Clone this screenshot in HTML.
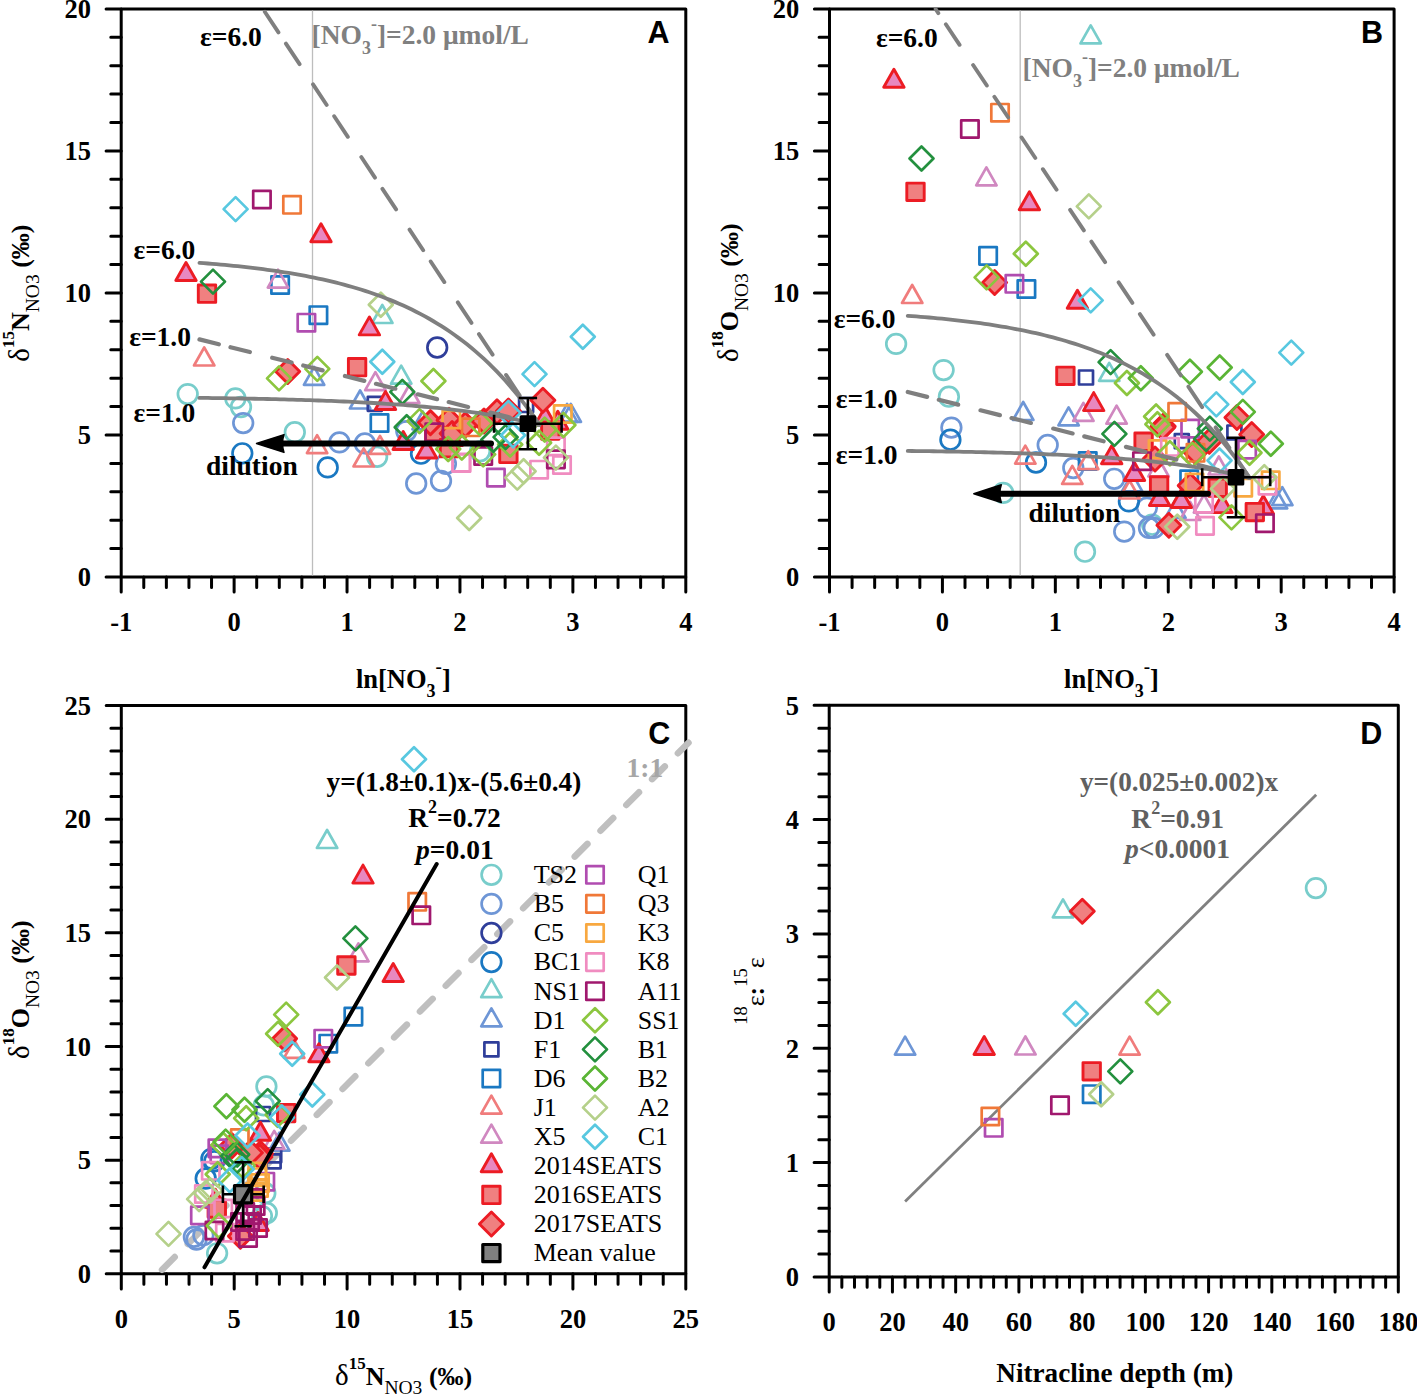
<!DOCTYPE html>
<html><head><meta charset="utf-8"><style>
html,body{margin:0;padding:0;background:#fff;width:1417px;height:1395px;overflow:hidden}
svg{display:block}
</style></head><body>
<svg width="1417" height="1395" viewBox="0 0 1417 1395" stroke-linejoin="round">
<path d="M121.20 577.00V592.10M143.78 577.00V587.40M166.37 577.00V587.40M188.95 577.00V587.40M211.54 577.00V587.40M234.12 577.00V592.10M256.70 577.00V587.40M279.29 577.00V587.40M301.87 577.00V587.40M324.46 577.00V587.40M347.04 577.00V592.10M369.62 577.00V587.40M392.21 577.00V587.40M414.79 577.00V587.40M437.38 577.00V587.40M459.96 577.00V592.10M482.54 577.00V587.40M505.13 577.00V587.40M527.71 577.00V587.40M550.30 577.00V587.40M572.88 577.00V592.10M595.46 577.00V587.40M618.05 577.00V587.40M640.63 577.00V587.40M663.22 577.00V587.40M685.80 577.00V592.10M121.20 577.00H106.10M121.20 548.60H110.80M121.20 520.19H110.80M121.20 491.78H110.80M121.20 463.38H110.80M121.20 434.98H106.10M121.20 406.57H110.80M121.20 378.16H110.80M121.20 349.76H110.80M121.20 321.36H110.80M121.20 292.95H106.10M121.20 264.54H110.80M121.20 236.14H110.80M121.20 207.73H110.80M121.20 179.33H110.80M121.20 150.92H106.10M121.20 122.52H110.80M121.20 94.12H110.80M121.20 65.71H110.80M121.20 37.30H110.80M121.20 8.90H106.10" stroke="#000" stroke-width="3.0" stroke-linecap="round" fill="none"/>
<rect x="121.20" y="8.90" width="564.60" height="568.10" fill="none" stroke="#000" stroke-width="3.0"/>
<text x="121.20" y="631.00" text-anchor="middle" font-family='"Liberation Serif", serif' font-weight="bold" font-size="26.5">-1</text>
<text x="234.12" y="631.00" text-anchor="middle" font-family='"Liberation Serif", serif' font-weight="bold" font-size="26.5">0</text>
<text x="347.04" y="631.00" text-anchor="middle" font-family='"Liberation Serif", serif' font-weight="bold" font-size="26.5">1</text>
<text x="459.96" y="631.00" text-anchor="middle" font-family='"Liberation Serif", serif' font-weight="bold" font-size="26.5">2</text>
<text x="572.88" y="631.00" text-anchor="middle" font-family='"Liberation Serif", serif' font-weight="bold" font-size="26.5">3</text>
<text x="685.80" y="631.00" text-anchor="middle" font-family='"Liberation Serif", serif' font-weight="bold" font-size="26.5">4</text>
<text x="90.90" y="586.30" text-anchor="end" font-family='"Liberation Serif", serif' font-weight="bold" font-size="26.5">0</text>
<text x="90.90" y="444.28" text-anchor="end" font-family='"Liberation Serif", serif' font-weight="bold" font-size="26.5">5</text>
<text x="90.90" y="302.25" text-anchor="end" font-family='"Liberation Serif", serif' font-weight="bold" font-size="26.5">10</text>
<text x="90.90" y="160.22" text-anchor="end" font-family='"Liberation Serif", serif' font-weight="bold" font-size="26.5">15</text>
<text x="90.90" y="18.20" text-anchor="end" font-family='"Liberation Serif", serif' font-weight="bold" font-size="26.5">20</text>
<path d="M829.50 577.00V592.10M852.08 577.00V587.40M874.67 577.00V587.40M897.25 577.00V587.40M919.84 577.00V587.40M942.42 577.00V592.10M965.00 577.00V587.40M987.59 577.00V587.40M1010.17 577.00V587.40M1032.76 577.00V587.40M1055.34 577.00V592.10M1077.92 577.00V587.40M1100.51 577.00V587.40M1123.09 577.00V587.40M1145.68 577.00V587.40M1168.26 577.00V592.10M1190.84 577.00V587.40M1213.43 577.00V587.40M1236.01 577.00V587.40M1258.60 577.00V587.40M1281.18 577.00V592.10M1303.76 577.00V587.40M1326.35 577.00V587.40M1348.93 577.00V587.40M1371.52 577.00V587.40M1394.10 577.00V592.10M829.50 577.00H814.40M829.50 548.60H819.10M829.50 520.19H819.10M829.50 491.78H819.10M829.50 463.38H819.10M829.50 434.98H814.40M829.50 406.57H819.10M829.50 378.16H819.10M829.50 349.76H819.10M829.50 321.36H819.10M829.50 292.95H814.40M829.50 264.54H819.10M829.50 236.14H819.10M829.50 207.73H819.10M829.50 179.33H819.10M829.50 150.92H814.40M829.50 122.52H819.10M829.50 94.12H819.10M829.50 65.71H819.10M829.50 37.30H819.10M829.50 8.90H814.40" stroke="#000" stroke-width="3.0" stroke-linecap="round" fill="none"/>
<rect x="829.50" y="8.90" width="564.60" height="568.10" fill="none" stroke="#000" stroke-width="3.0"/>
<text x="829.50" y="631.00" text-anchor="middle" font-family='"Liberation Serif", serif' font-weight="bold" font-size="26.5">-1</text>
<text x="942.42" y="631.00" text-anchor="middle" font-family='"Liberation Serif", serif' font-weight="bold" font-size="26.5">0</text>
<text x="1055.34" y="631.00" text-anchor="middle" font-family='"Liberation Serif", serif' font-weight="bold" font-size="26.5">1</text>
<text x="1168.26" y="631.00" text-anchor="middle" font-family='"Liberation Serif", serif' font-weight="bold" font-size="26.5">2</text>
<text x="1281.18" y="631.00" text-anchor="middle" font-family='"Liberation Serif", serif' font-weight="bold" font-size="26.5">3</text>
<text x="1394.10" y="631.00" text-anchor="middle" font-family='"Liberation Serif", serif' font-weight="bold" font-size="26.5">4</text>
<text x="799.20" y="586.30" text-anchor="end" font-family='"Liberation Serif", serif' font-weight="bold" font-size="26.5">0</text>
<text x="799.20" y="444.28" text-anchor="end" font-family='"Liberation Serif", serif' font-weight="bold" font-size="26.5">5</text>
<text x="799.20" y="302.25" text-anchor="end" font-family='"Liberation Serif", serif' font-weight="bold" font-size="26.5">10</text>
<text x="799.20" y="160.22" text-anchor="end" font-family='"Liberation Serif", serif' font-weight="bold" font-size="26.5">15</text>
<text x="799.20" y="18.20" text-anchor="end" font-family='"Liberation Serif", serif' font-weight="bold" font-size="26.5">20</text>
<path d="M121.30 1273.80V1288.90M143.88 1273.80V1284.20M166.46 1273.80V1284.20M189.04 1273.80V1284.20M211.62 1273.80V1284.20M234.20 1273.80V1288.90M256.78 1273.80V1284.20M279.36 1273.80V1284.20M301.94 1273.80V1284.20M324.52 1273.80V1284.20M347.10 1273.80V1288.90M369.68 1273.80V1284.20M392.26 1273.80V1284.20M414.84 1273.80V1284.20M437.42 1273.80V1284.20M460.00 1273.80V1288.90M482.58 1273.80V1284.20M505.16 1273.80V1284.20M527.74 1273.80V1284.20M550.32 1273.80V1284.20M572.90 1273.80V1288.90M595.48 1273.80V1284.20M618.06 1273.80V1284.20M640.64 1273.80V1284.20M663.22 1273.80V1284.20M685.80 1273.80V1288.90M121.30 1273.80H106.20M121.30 1251.07H110.90M121.30 1228.34H110.90M121.30 1205.60H110.90M121.30 1182.87H110.90M121.30 1160.14H106.20M121.30 1137.41H110.90M121.30 1114.68H110.90M121.30 1091.94H110.90M121.30 1069.21H110.90M121.30 1046.48H106.20M121.30 1023.75H110.90M121.30 1001.02H110.90M121.30 978.28H110.90M121.30 955.55H110.90M121.30 932.82H106.20M121.30 910.09H110.90M121.30 887.36H110.90M121.30 864.62H110.90M121.30 841.89H110.90M121.30 819.16H106.20M121.30 796.43H110.90M121.30 773.70H110.90M121.30 750.96H110.90M121.30 728.23H110.90M121.30 705.50H106.20" stroke="#000" stroke-width="3.0" stroke-linecap="round" fill="none"/>
<rect x="121.30" y="705.50" width="564.50" height="568.30" fill="none" stroke="#000" stroke-width="3.0"/>
<text x="121.30" y="1327.80" text-anchor="middle" font-family='"Liberation Serif", serif' font-weight="bold" font-size="26.5">0</text>
<text x="234.20" y="1327.80" text-anchor="middle" font-family='"Liberation Serif", serif' font-weight="bold" font-size="26.5">5</text>
<text x="347.10" y="1327.80" text-anchor="middle" font-family='"Liberation Serif", serif' font-weight="bold" font-size="26.5">10</text>
<text x="460.00" y="1327.80" text-anchor="middle" font-family='"Liberation Serif", serif' font-weight="bold" font-size="26.5">15</text>
<text x="572.90" y="1327.80" text-anchor="middle" font-family='"Liberation Serif", serif' font-weight="bold" font-size="26.5">20</text>
<text x="685.80" y="1327.80" text-anchor="middle" font-family='"Liberation Serif", serif' font-weight="bold" font-size="26.5">25</text>
<text x="91.00" y="1283.10" text-anchor="end" font-family='"Liberation Serif", serif' font-weight="bold" font-size="26.5">0</text>
<text x="91.00" y="1169.44" text-anchor="end" font-family='"Liberation Serif", serif' font-weight="bold" font-size="26.5">5</text>
<text x="91.00" y="1055.78" text-anchor="end" font-family='"Liberation Serif", serif' font-weight="bold" font-size="26.5">10</text>
<text x="91.00" y="942.12" text-anchor="end" font-family='"Liberation Serif", serif' font-weight="bold" font-size="26.5">15</text>
<text x="91.00" y="828.46" text-anchor="end" font-family='"Liberation Serif", serif' font-weight="bold" font-size="26.5">20</text>
<text x="91.00" y="714.80" text-anchor="end" font-family='"Liberation Serif", serif' font-weight="bold" font-size="26.5">25</text>
<path d="M829.20 1276.90V1292.00M841.85 1276.90V1287.30M854.49 1276.90V1287.30M867.14 1276.90V1287.30M879.79 1276.90V1287.30M892.43 1276.90V1292.00M905.08 1276.90V1287.30M917.73 1276.90V1287.30M930.37 1276.90V1287.30M943.02 1276.90V1287.30M955.67 1276.90V1292.00M968.31 1276.90V1287.30M980.96 1276.90V1287.30M993.61 1276.90V1287.30M1006.25 1276.90V1287.30M1018.90 1276.90V1292.00M1031.55 1276.90V1287.30M1044.19 1276.90V1287.30M1056.84 1276.90V1287.30M1069.49 1276.90V1287.30M1082.13 1276.90V1292.00M1094.78 1276.90V1287.30M1107.43 1276.90V1287.30M1120.07 1276.90V1287.30M1132.72 1276.90V1287.30M1145.37 1276.90V1292.00M1158.01 1276.90V1287.30M1170.66 1276.90V1287.30M1183.31 1276.90V1287.30M1195.95 1276.90V1287.30M1208.60 1276.90V1292.00M1221.25 1276.90V1287.30M1233.89 1276.90V1287.30M1246.54 1276.90V1287.30M1259.19 1276.90V1287.30M1271.83 1276.90V1292.00M1284.48 1276.90V1287.30M1297.13 1276.90V1287.30M1309.77 1276.90V1287.30M1322.42 1276.90V1287.30M1335.07 1276.90V1292.00M1347.71 1276.90V1287.30M1360.36 1276.90V1287.30M1373.01 1276.90V1287.30M1385.65 1276.90V1287.30M1398.30 1276.90V1292.00M829.20 1276.90H814.10M829.20 1254.04H818.80M829.20 1231.17H818.80M829.20 1208.31H818.80M829.20 1185.44H818.80M829.20 1162.58H814.10M829.20 1139.72H818.80M829.20 1116.85H818.80M829.20 1093.99H818.80M829.20 1071.12H818.80M829.20 1048.26H814.10M829.20 1025.40H818.80M829.20 1002.53H818.80M829.20 979.67H818.80M829.20 956.80H818.80M829.20 933.94H814.10M829.20 911.08H818.80M829.20 888.21H818.80M829.20 865.35H818.80M829.20 842.48H818.80M829.20 819.62H814.10M829.20 796.76H818.80M829.20 773.89H818.80M829.20 751.03H818.80M829.20 728.16H818.80M829.20 705.30H814.10" stroke="#000" stroke-width="3.0" stroke-linecap="round" fill="none"/>
<rect x="829.20" y="705.30" width="569.10" height="571.60" fill="none" stroke="#000" stroke-width="3.0"/>
<text x="829.20" y="1330.90" text-anchor="middle" font-family='"Liberation Serif", serif' font-weight="bold" font-size="26.5">0</text>
<text x="892.43" y="1330.90" text-anchor="middle" font-family='"Liberation Serif", serif' font-weight="bold" font-size="26.5">20</text>
<text x="955.67" y="1330.90" text-anchor="middle" font-family='"Liberation Serif", serif' font-weight="bold" font-size="26.5">40</text>
<text x="1018.90" y="1330.90" text-anchor="middle" font-family='"Liberation Serif", serif' font-weight="bold" font-size="26.5">60</text>
<text x="1082.13" y="1330.90" text-anchor="middle" font-family='"Liberation Serif", serif' font-weight="bold" font-size="26.5">80</text>
<text x="1145.37" y="1330.90" text-anchor="middle" font-family='"Liberation Serif", serif' font-weight="bold" font-size="26.5">100</text>
<text x="1208.60" y="1330.90" text-anchor="middle" font-family='"Liberation Serif", serif' font-weight="bold" font-size="26.5">120</text>
<text x="1271.83" y="1330.90" text-anchor="middle" font-family='"Liberation Serif", serif' font-weight="bold" font-size="26.5">140</text>
<text x="1335.07" y="1330.90" text-anchor="middle" font-family='"Liberation Serif", serif' font-weight="bold" font-size="26.5">160</text>
<text x="1398.30" y="1330.90" text-anchor="middle" font-family='"Liberation Serif", serif' font-weight="bold" font-size="26.5">180</text>
<text x="798.90" y="1286.20" text-anchor="end" font-family='"Liberation Serif", serif' font-weight="bold" font-size="26.5">0</text>
<text x="798.90" y="1171.88" text-anchor="end" font-family='"Liberation Serif", serif' font-weight="bold" font-size="26.5">1</text>
<text x="798.90" y="1057.56" text-anchor="end" font-family='"Liberation Serif", serif' font-weight="bold" font-size="26.5">2</text>
<text x="798.90" y="943.24" text-anchor="end" font-family='"Liberation Serif", serif' font-weight="bold" font-size="26.5">3</text>
<text x="798.90" y="828.92" text-anchor="end" font-family='"Liberation Serif", serif' font-weight="bold" font-size="26.5">4</text>
<text x="798.90" y="714.60" text-anchor="end" font-family='"Liberation Serif", serif' font-weight="bold" font-size="26.5">5</text>
<text x="647.5" y="43.2" font-family='"Liberation Sans", sans-serif' font-weight="bold" font-size="30.5">A</text>
<text x="1361" y="43.2" font-family='"Liberation Sans", sans-serif' font-weight="bold" font-size="30.5">B</text>
<text x="648.3" y="743.8" font-family='"Liberation Sans", sans-serif' font-weight="bold" font-size="30.5">C</text>
<text x="1360.3" y="743.8" font-family='"Liberation Sans", sans-serif' font-weight="bold" font-size="30.5">D</text>
<line x1="312.5" y1="10.5" x2="312.5" y2="575.5" stroke="#BDBDBD" stroke-width="1.3"/>
<circle cx="187.7" cy="394.1" r="9.8" fill="none" stroke="#78CDCB" stroke-width="2.7"/>
<circle cx="235.4" cy="398.4" r="9.8" fill="none" stroke="#78CDCB" stroke-width="2.7"/>
<circle cx="241.0" cy="407.0" r="9.8" fill="none" stroke="#78CDCB" stroke-width="2.7"/>
<circle cx="294.8" cy="432.2" r="9.8" fill="none" stroke="#78CDCB" stroke-width="2.7"/>
<circle cx="377.1" cy="456.8" r="9.8" fill="none" stroke="#78CDCB" stroke-width="2.7"/>
<circle cx="480.0" cy="451.3" r="9.8" fill="none" stroke="#78CDCB" stroke-width="2.7"/>
<circle cx="243.2" cy="423.1" r="9.8" fill="none" stroke="#6E96D6" stroke-width="2.7"/>
<circle cx="339.4" cy="442.4" r="9.8" fill="none" stroke="#6E96D6" stroke-width="2.7"/>
<circle cx="364.9" cy="443.4" r="9.8" fill="none" stroke="#6E96D6" stroke-width="2.7"/>
<circle cx="406.3" cy="431.1" r="9.8" fill="none" stroke="#6E96D6" stroke-width="2.7"/>
<circle cx="416.2" cy="483.5" r="9.8" fill="none" stroke="#6E96D6" stroke-width="2.7"/>
<circle cx="441.0" cy="481.0" r="9.8" fill="none" stroke="#6E96D6" stroke-width="2.7"/>
<circle cx="445.9" cy="463.8" r="9.8" fill="none" stroke="#6E96D6" stroke-width="2.7"/>
<circle cx="437.2" cy="347.5" r="9.8" fill="none" stroke="#2F3E9A" stroke-width="2.7"/>
<circle cx="242.3" cy="453.3" r="9.8" fill="none" stroke="#1A78C2" stroke-width="2.7"/>
<circle cx="327.7" cy="467.4" r="9.8" fill="none" stroke="#1A78C2" stroke-width="2.7"/>
<circle cx="421.0" cy="453.7" r="9.8" fill="none" stroke="#1A78C2" stroke-width="2.7"/>
<path d="M382.3 305.0L392.5 323.0L372.1 323.0Z" fill="none" stroke="#78CDCB" stroke-width="2.7"/>
<path d="M401.2 365.7L411.4 383.7L391.0 383.7Z" fill="none" stroke="#78CDCB" stroke-width="2.7"/>
<path d="M314.1 366.8L324.3 384.8L303.9 384.8Z" fill="none" stroke="#6E96D6" stroke-width="2.7"/>
<path d="M360.1 390.5L370.3 408.5L349.9 408.5Z" fill="none" stroke="#6E96D6" stroke-width="2.7"/>
<path d="M422.6 411.3L432.8 429.3L412.4 429.3Z" fill="none" stroke="#6E96D6" stroke-width="2.7"/>
<path d="M567.1 403.9L577.3 421.9L556.9 421.9Z" fill="none" stroke="#6E96D6" stroke-width="2.7"/>
<path d="M570.8 403.9L581.0 421.9L560.6 421.9Z" fill="none" stroke="#6E96D6" stroke-width="2.7"/>
<rect x="367.8" y="396.8" width="14.0" height="14.0" fill="none" stroke="#2F3E9A" stroke-width="2.7"/>
<rect x="519.1" y="398.0" width="14.0" height="14.0" fill="none" stroke="#2F3E9A" stroke-width="2.7"/>
<rect x="271.4" y="276.3" width="17.4" height="17.4" fill="none" stroke="#1A78C2" stroke-width="2.7"/>
<rect x="309.7" y="306.5" width="17.4" height="17.4" fill="none" stroke="#1A78C2" stroke-width="2.7"/>
<rect x="370.8" y="414.3" width="17.4" height="17.4" fill="none" stroke="#1A78C2" stroke-width="2.7"/>
<path d="M204.2 347.5L214.4 365.5L194.0 365.5Z" fill="none" stroke="#F07C7C" stroke-width="2.7"/>
<path d="M317.1 435.1L327.3 453.1L306.9 453.1Z" fill="none" stroke="#F07C7C" stroke-width="2.7"/>
<path d="M380.0 435.8L390.2 453.8L369.8 453.8Z" fill="none" stroke="#F07C7C" stroke-width="2.7"/>
<path d="M363.7 448.5L373.9 466.5L353.5 466.5Z" fill="none" stroke="#F07C7C" stroke-width="2.7"/>
<path d="M278.0 269.6L288.2 287.6L267.8 287.6Z" fill="none" stroke="#D088C0" stroke-width="2.7"/>
<path d="M375.4 372.2L385.6 390.2L365.2 390.2Z" fill="none" stroke="#D088C0" stroke-width="2.7"/>
<path d="M409.2 385.0L419.4 403.0L399.0 403.0Z" fill="none" stroke="#D088C0" stroke-width="2.7"/>
<path d="M321.0 223.8L331.2 241.8L310.8 241.8Z" fill="#E888C0" stroke="#EC1C24" stroke-width="2.9"/>
<path d="M186.0 262.5L196.2 280.5L175.8 280.5Z" fill="#E888C0" stroke="#EC1C24" stroke-width="2.9"/>
<path d="M369.4 316.9L379.6 334.9L359.2 334.9Z" fill="#E888C0" stroke="#EC1C24" stroke-width="2.9"/>
<path d="M385.5 391.5L395.7 409.5L375.3 409.5Z" fill="#E888C0" stroke="#EC1C24" stroke-width="2.9"/>
<path d="M403.2 431.5L413.4 449.5L393.0 449.5Z" fill="#E888C0" stroke="#EC1C24" stroke-width="2.9"/>
<path d="M426.5 440.0L436.7 458.0L416.3 458.0Z" fill="#E888C0" stroke="#EC1C24" stroke-width="2.9"/>
<path d="M452.1 427.6L462.3 445.6L441.9 445.6Z" fill="#E888C0" stroke="#EC1C24" stroke-width="2.9"/>
<path d="M545.2 406.7L555.4 424.7L535.0 424.7Z" fill="#E888C0" stroke="#EC1C24" stroke-width="2.9"/>
<path d="M557.8 411.3L568.0 429.3L547.6 429.3Z" fill="#E888C0" stroke="#EC1C24" stroke-width="2.9"/>
<rect x="198.3" y="285.0" width="17.4" height="17.4" fill="#F08080" stroke="#EC1C24" stroke-width="2.9"/>
<rect x="348.4" y="358.5" width="17.4" height="17.4" fill="#F08080" stroke="#EC1C24" stroke-width="2.9"/>
<rect x="425.6" y="423.6" width="17.4" height="17.4" fill="#F08080" stroke="#EC1C24" stroke-width="2.9"/>
<rect x="440.3" y="439.5" width="17.4" height="17.4" fill="#F08080" stroke="#EC1C24" stroke-width="2.9"/>
<rect x="541.6" y="421.9" width="17.4" height="17.4" fill="#F08080" stroke="#EC1C24" stroke-width="2.9"/>
<rect x="499.7" y="445.2" width="17.4" height="17.4" fill="#F08080" stroke="#EC1C24" stroke-width="2.9"/>
<path d="M287.7 359.5L299.7 371.5L287.7 383.5L275.7 371.5Z" fill="#F08080" stroke="#EC1C24" stroke-width="2.9"/>
<path d="M430.4 410.6L442.4 422.6L430.4 434.6L418.4 422.6Z" fill="#F08080" stroke="#EC1C24" stroke-width="2.9"/>
<path d="M449.0 408.3L461.0 420.3L449.0 432.3L437.0 420.3Z" fill="#F08080" stroke="#EC1C24" stroke-width="2.9"/>
<path d="M452.1 421.5L464.1 433.5L452.1 445.5L440.1 433.5Z" fill="#F08080" stroke="#EC1C24" stroke-width="2.9"/>
<path d="M465.3 412.9L477.3 424.9L465.3 436.9L453.3 424.9Z" fill="#F08080" stroke="#EC1C24" stroke-width="2.9"/>
<path d="M484.0 409.0L496.0 421.0L484.0 433.0L472.0 421.0Z" fill="#F08080" stroke="#EC1C24" stroke-width="2.9"/>
<path d="M497.0 399.7L509.0 411.7L497.0 423.7L485.0 411.7Z" fill="#F08080" stroke="#EC1C24" stroke-width="2.9"/>
<path d="M508.4 399.0L520.4 411.0L508.4 423.0L496.4 411.0Z" fill="#F08080" stroke="#EC1C24" stroke-width="2.9"/>
<path d="M542.9 388.3L554.9 400.3L542.9 412.3L530.9 400.3Z" fill="#F08080" stroke="#EC1C24" stroke-width="2.9"/>
<rect x="297.7" y="314.0" width="17.4" height="17.4" fill="none" stroke="#B04CB0" stroke-width="2.7"/>
<rect x="487.2" y="468.9" width="17.4" height="17.4" fill="none" stroke="#B04CB0" stroke-width="2.7"/>
<rect x="283.3" y="196.1" width="17.4" height="17.4" fill="none" stroke="#F07838" stroke-width="2.7"/>
<rect x="462.0" y="418.6" width="17.4" height="17.4" fill="none" stroke="#F07838" stroke-width="2.7"/>
<rect x="442.6" y="410.8" width="17.4" height="17.4" fill="none" stroke="#F8A840" stroke-width="2.7"/>
<rect x="554.1" y="405.3" width="17.4" height="17.4" fill="none" stroke="#F8A840" stroke-width="2.7"/>
<rect x="452.7" y="454.3" width="17.4" height="17.4" fill="none" stroke="#F08CC0" stroke-width="2.7"/>
<rect x="547.2" y="437.7" width="17.4" height="17.4" fill="none" stroke="#F08CC0" stroke-width="2.7"/>
<rect x="553.3" y="456.3" width="17.4" height="17.4" fill="none" stroke="#F08CC0" stroke-width="2.7"/>
<rect x="530.4" y="461.0" width="17.4" height="17.4" fill="none" stroke="#F08CC0" stroke-width="2.7"/>
<rect x="452.6" y="453.9" width="17.4" height="17.4" fill="none" stroke="#F08CC0" stroke-width="2.7"/>
<rect x="253.2" y="190.8" width="17.4" height="17.4" fill="none" stroke="#A0186E" stroke-width="2.7"/>
<rect x="425.6" y="423.6" width="17.4" height="17.4" fill="none" stroke="#A0186E" stroke-width="2.7"/>
<rect x="474.5" y="447.3" width="17.4" height="17.4" fill="none" stroke="#A0186E" stroke-width="2.7"/>
<rect x="547.2" y="450.7" width="17.4" height="17.4" fill="none" stroke="#A0186E" stroke-width="2.7"/>
<path d="M279.0 366.4L291.0 378.4L279.0 390.4L267.0 378.4Z" fill="none" stroke="#8CC63F" stroke-width="2.7"/>
<path d="M317.3 356.9L329.3 368.9L317.3 380.9L305.3 368.9Z" fill="none" stroke="#8CC63F" stroke-width="2.7"/>
<path d="M433.4 369.0L445.4 381.0L433.4 393.0L421.4 381.0Z" fill="none" stroke="#8CC63F" stroke-width="2.7"/>
<path d="M419.5 409.1L431.5 421.1L419.5 433.1L407.5 421.1Z" fill="none" stroke="#8CC63F" stroke-width="2.7"/>
<path d="M480.0 411.4L492.0 423.4L480.0 435.4L468.0 423.4Z" fill="none" stroke="#8CC63F" stroke-width="2.7"/>
<path d="M448.2 437.0L460.2 449.0L448.2 461.0L436.2 449.0Z" fill="none" stroke="#8CC63F" stroke-width="2.7"/>
<path d="M461.8 435.5L473.8 447.5L461.8 459.5L449.8 447.5Z" fill="none" stroke="#8CC63F" stroke-width="2.7"/>
<path d="M483.2 442.4L495.2 454.4L483.2 466.4L471.2 454.4Z" fill="none" stroke="#8CC63F" stroke-width="2.7"/>
<path d="M563.4 413.0L575.4 425.0L563.4 437.0L551.4 425.0Z" fill="none" stroke="#8CC63F" stroke-width="2.7"/>
<path d="M544.7 417.6L556.7 429.6L544.7 441.6L532.7 429.6Z" fill="none" stroke="#8CC63F" stroke-width="2.7"/>
<path d="M539.1 430.7L551.1 442.7L539.1 454.7L527.1 442.7Z" fill="none" stroke="#8CC63F" stroke-width="2.7"/>
<path d="M510.2 432.5L522.2 444.5L510.2 456.5L498.2 444.5Z" fill="none" stroke="#8CC63F" stroke-width="2.7"/>
<path d="M213.0 269.6L225.0 281.6L213.0 293.6L201.0 281.6Z" fill="none" stroke="#23903E" stroke-width="2.7"/>
<path d="M402.3 379.9L414.3 391.9L402.3 403.9L390.3 391.9Z" fill="none" stroke="#23903E" stroke-width="2.7"/>
<path d="M406.7 415.3L418.7 427.3L406.7 439.3L394.7 427.3Z" fill="none" stroke="#23903E" stroke-width="2.7"/>
<path d="M493.3 427.7L505.3 439.7L493.3 451.7L481.3 439.7Z" fill="none" stroke="#23903E" stroke-width="2.7"/>
<path d="M505.6 425.1L517.6 437.1L505.6 449.1L493.6 437.1Z" fill="none" stroke="#23903E" stroke-width="2.7"/>
<path d="M380.8 292.8L392.8 304.8L380.8 316.8L368.8 304.8Z" fill="none" stroke="#B5D08A" stroke-width="2.7"/>
<path d="M555.9 445.6L567.9 457.6L555.9 469.6L543.9 457.6Z" fill="none" stroke="#B5D08A" stroke-width="2.7"/>
<path d="M517.3 465.6L529.3 477.6L517.3 489.6L505.3 477.6Z" fill="none" stroke="#B5D08A" stroke-width="2.7"/>
<path d="M523.6 459.3L535.6 471.3L523.6 483.3L511.6 471.3Z" fill="none" stroke="#B5D08A" stroke-width="2.7"/>
<path d="M469.2 506.0L481.2 518.0L469.2 530.0L457.2 518.0Z" fill="none" stroke="#B5D08A" stroke-width="2.7"/>
<path d="M235.6 197.1L247.6 209.1L235.6 221.1L223.6 209.1Z" fill="none" stroke="#58C8E0" stroke-width="2.7"/>
<path d="M382.3 349.8L394.3 361.8L382.3 373.8L370.3 361.8Z" fill="none" stroke="#58C8E0" stroke-width="2.7"/>
<path d="M582.8 324.8L594.8 336.8L582.8 348.8L570.8 336.8Z" fill="none" stroke="#58C8E0" stroke-width="2.7"/>
<path d="M534.5 362.1L546.5 374.1L534.5 386.1L522.5 374.1Z" fill="none" stroke="#58C8E0" stroke-width="2.7"/>
<path d="M508.4 400.9L520.4 412.9L508.4 424.9L496.4 412.9Z" fill="none" stroke="#58C8E0" stroke-width="2.7"/>
<path d="M513.0 423.2L525.0 435.2L513.0 447.2L501.0 435.2Z" fill="none" stroke="#58C8E0" stroke-width="2.7"/>
<path d="M199.45 262.84L203.70 263.16L207.95 263.50L212.20 263.85L216.44 264.21L220.69 264.58L224.94 264.97L229.18 265.37L233.43 265.79L237.68 266.23L241.93 266.68L246.17 267.15L250.42 267.64L254.67 268.15L258.91 268.67L263.16 269.22L267.41 269.78L271.66 270.37L275.90 270.98L280.15 271.62L284.40 272.28L288.64 272.96L292.89 273.67L297.14 274.41L301.39 275.17L305.63 275.97L309.88 276.79L314.13 277.65L318.38 278.54L322.62 279.46L326.87 280.42L331.12 281.42L335.36 282.45L339.61 283.53L343.86 284.64L348.11 285.80L352.35 287.00L356.60 288.25L360.85 289.55L365.09 290.89L369.34 292.29L373.59 293.74L377.84 295.25L382.08 296.81L386.33 298.44L390.58 300.12L394.82 301.87L399.07 303.69L403.32 305.58L407.57 307.54L411.81 309.58L416.06 311.69L420.31 313.89L424.56 316.16L428.80 318.53L433.05 320.99L437.30 323.54L441.54 326.19L445.79 328.94L450.04 331.79L454.29 334.76L458.53 337.84L462.78 341.03L467.03 344.35L471.27 347.80L475.52 351.38L479.77 355.09L484.02 358.95L488.26 362.96L492.51 367.12L496.76 371.44L501.01 375.92L505.25 380.58L509.50 385.41L513.75 390.43L517.99 395.64L522.24 401.06L526.49 406.68L530.74 412.51L534.98 418.57L539.23 424.86" stroke="#7F7F7F" stroke-width="3.8" fill="none" stroke-linecap="round"/>
<path d="M199.45 397.86L203.70 397.91L207.95 397.97L212.20 398.03L216.44 398.09L220.69 398.15L224.94 398.21L229.18 398.28L233.43 398.35L237.68 398.42L241.93 398.50L246.17 398.58L250.42 398.66L254.67 398.74L258.91 398.83L263.16 398.92L267.41 399.02L271.66 399.11L275.90 399.22L280.15 399.32L284.40 399.43L288.64 399.55L292.89 399.66L297.14 399.79L301.39 399.91L305.63 400.05L309.88 400.18L314.13 400.33L318.38 400.48L322.62 400.63L326.87 400.79L331.12 400.96L335.36 401.13L339.61 401.31L343.86 401.49L348.11 401.69L352.35 401.89L356.60 402.09L360.85 402.31L365.09 402.53L369.34 402.77L373.59 403.01L377.84 403.26L382.08 403.52L386.33 403.79L390.58 404.07L394.82 404.36L399.07 404.67L403.32 404.98L407.57 405.31L411.81 405.65L416.06 406.00L420.31 406.37L424.56 406.75L428.80 407.14L433.05 407.55L437.30 407.98L441.54 408.42L445.79 408.88L450.04 409.35L454.29 409.85L458.53 410.36L462.78 410.89L467.03 411.44L471.27 412.02L475.52 412.62L479.77 413.23L484.02 413.88L488.26 414.55L492.51 415.24L496.76 415.96L501.01 416.71L505.25 417.48L509.50 418.29L513.75 419.12L517.99 419.99L522.24 420.90L526.49 421.83L530.74 422.80L534.98 423.81L539.23 424.86" stroke="#7F7F7F" stroke-width="3.8" fill="none" stroke-linecap="round"/>
<path d="M199.45 339.39L539.23 424.86" stroke="#7F7F7F" stroke-width="4.2" fill="none" stroke-linecap="round" stroke-dasharray="20 12 20 23"/>
<path d="M263.4 9.7L539.23 424.86" stroke="#7F7F7F" stroke-width="3.9" fill="none" stroke-linecap="round" stroke-dasharray="24.7 13.5 24.7 24.3" stroke-dashoffset="-2.5"/>
<path d="M494.1 423.7H561.6M494.1 414.7V432.7M561.6 414.7V432.7M527.9 398V449.2M518.7 398H537.1M518.7 449.2H537.1" stroke="#000" stroke-width="2.6" fill="none"/>
<rect x="519.6" y="415.3" width="16.6" height="16.6" rx="1.5" fill="#000"/>
<path d="M491 443.6H280" stroke="#000" stroke-width="6" stroke-linecap="round"/>
<path d="M256.5 443.5L284 434.6Q281 443.5 284 452.4Z" fill="#000" stroke="#000" stroke-width="1.5" stroke-linejoin="round"/>
<text x="206" y="474.5" font-family='"Liberation Serif", serif' font-weight="bold" font-size="27.5" fill="#000" text-anchor="start">dilution</text>
<text x="133.5" y="258.6" font-family='"Liberation Serif", serif' font-weight="bold" font-size="27.5" fill="#000" text-anchor="start">ε=6.0</text>
<text x="129.2" y="345.7" font-family='"Liberation Serif", serif' font-weight="bold" font-size="27.5" fill="#000" text-anchor="start">ε=1.0</text>
<text x="133.5" y="422" font-family='"Liberation Serif", serif' font-weight="bold" font-size="27.5" fill="#000" text-anchor="start">ε=1.0</text>
<text x="200" y="45.6" font-family='"Liberation Serif", serif' font-weight="bold" font-size="27.5" fill="#000" text-anchor="start">ε=6.0</text>
<text x="311.5" y="44" font-family='"Liberation Serif", serif' font-weight="bold" font-size="27.5" fill="#808080" text-anchor="start">[NO<tspan font-size="18" dy="9.5">3</tspan><tspan font-size="18" dy="-24">-</tspan><tspan dy="14.5">]=2.0 μmol/L</tspan></text>
<line x1="1020.2" y1="10.5" x2="1020.2" y2="575.5" stroke="#BDBDBD" stroke-width="1.3"/>
<circle cx="896.1" cy="343.9" r="9.8" fill="none" stroke="#78CDCB" stroke-width="2.7"/>
<circle cx="943.6" cy="370.1" r="9.8" fill="none" stroke="#78CDCB" stroke-width="2.7"/>
<circle cx="948.9" cy="396.7" r="9.8" fill="none" stroke="#78CDCB" stroke-width="2.7"/>
<circle cx="1003.2" cy="492.9" r="9.8" fill="none" stroke="#78CDCB" stroke-width="2.7"/>
<circle cx="1085.0" cy="551.7" r="9.8" fill="none" stroke="#78CDCB" stroke-width="2.7"/>
<circle cx="1152.2" cy="524.7" r="9.8" fill="none" stroke="#78CDCB" stroke-width="2.7"/>
<circle cx="951.4" cy="427.6" r="9.8" fill="none" stroke="#6E96D6" stroke-width="2.7"/>
<circle cx="1047.7" cy="445.0" r="9.8" fill="none" stroke="#6E96D6" stroke-width="2.7"/>
<circle cx="1073.3" cy="468.0" r="9.8" fill="none" stroke="#6E96D6" stroke-width="2.7"/>
<circle cx="1114.2" cy="478.8" r="9.8" fill="none" stroke="#6E96D6" stroke-width="2.7"/>
<circle cx="1146.9" cy="507.7" r="9.8" fill="none" stroke="#6E96D6" stroke-width="2.7"/>
<circle cx="1124.2" cy="531.6" r="9.8" fill="none" stroke="#6E96D6" stroke-width="2.7"/>
<circle cx="1149.0" cy="527.9" r="9.8" fill="none" stroke="#6E96D6" stroke-width="2.7"/>
<circle cx="1153.8" cy="527.9" r="9.8" fill="none" stroke="#6E96D6" stroke-width="2.7"/>
<circle cx="950.4" cy="439.7" r="9.8" fill="none" stroke="#1A78C2" stroke-width="2.7"/>
<circle cx="1036.0" cy="462.5" r="9.8" fill="none" stroke="#1A78C2" stroke-width="2.7"/>
<circle cx="1128.9" cy="501.4" r="9.8" fill="none" stroke="#1A78C2" stroke-width="2.7"/>
<path d="M1090.7 25.4L1100.9 43.4L1080.5 43.4Z" fill="none" stroke="#78CDCB" stroke-width="2.7"/>
<path d="M1109.2 362.8L1119.4 380.8L1099.0 380.8Z" fill="none" stroke="#78CDCB" stroke-width="2.7"/>
<path d="M1023.2 402.0L1033.4 420.0L1013.0 420.0Z" fill="none" stroke="#6E96D6" stroke-width="2.7"/>
<path d="M1068.6 407.3L1078.8 425.3L1058.4 425.3Z" fill="none" stroke="#6E96D6" stroke-width="2.7"/>
<path d="M1132.1 473.3L1142.3 491.3L1121.9 491.3Z" fill="none" stroke="#6E96D6" stroke-width="2.7"/>
<path d="M1175.4 499.9L1185.6 517.9L1165.2 517.9Z" fill="none" stroke="#6E96D6" stroke-width="2.7"/>
<path d="M1282.3 487.2L1292.5 505.2L1272.1 505.2Z" fill="none" stroke="#6E96D6" stroke-width="2.7"/>
<path d="M1277.0 490.4L1287.2 508.4L1266.8 508.4Z" fill="none" stroke="#6E96D6" stroke-width="2.7"/>
<rect x="1079.0" y="370.5" width="14.0" height="14.0" fill="none" stroke="#2F3E9A" stroke-width="2.7"/>
<rect x="1227.4" y="425.5" width="14.0" height="14.0" fill="none" stroke="#2F3E9A" stroke-width="2.7"/>
<rect x="1174.8" y="434.2" width="14.0" height="14.0" fill="none" stroke="#2F3E9A" stroke-width="2.7"/>
<rect x="979.4" y="247.2" width="17.4" height="17.4" fill="none" stroke="#1A78C2" stroke-width="2.7"/>
<rect x="1017.7" y="280.3" width="17.4" height="17.4" fill="none" stroke="#1A78C2" stroke-width="2.7"/>
<rect x="1079.0" y="452.3" width="17.4" height="17.4" fill="none" stroke="#1A78C2" stroke-width="2.7"/>
<rect x="1180.5" y="470.6" width="17.4" height="17.4" fill="none" stroke="#1A78C2" stroke-width="2.7"/>
<path d="M912.2 285.0L922.4 303.0L902.0 303.0Z" fill="none" stroke="#F07C7C" stroke-width="2.7"/>
<path d="M1025.3 445.6L1035.5 463.6L1015.1 463.6Z" fill="none" stroke="#F07C7C" stroke-width="2.7"/>
<path d="M1072.3 465.9L1082.5 483.9L1062.1 483.9Z" fill="none" stroke="#F07C7C" stroke-width="2.7"/>
<path d="M1088.2 451.1L1098.4 469.1L1078.0 469.1Z" fill="none" stroke="#F07C7C" stroke-width="2.7"/>
<path d="M1129.5 480.5L1139.7 498.5L1119.3 498.5Z" fill="none" stroke="#F07C7C" stroke-width="2.7"/>
<path d="M986.4 167.3L996.6 185.3L976.2 185.3Z" fill="none" stroke="#D088C0" stroke-width="2.7"/>
<path d="M1083.4 402.9L1093.6 420.9L1073.2 420.9Z" fill="none" stroke="#D088C0" stroke-width="2.7"/>
<path d="M1116.6 405.7L1126.8 423.7L1106.4 423.7Z" fill="none" stroke="#D088C0" stroke-width="2.7"/>
<path d="M1158.6 458.5L1168.8 476.5L1148.4 476.5Z" fill="none" stroke="#D088C0" stroke-width="2.7"/>
<path d="M1218.8 456.5L1229.0 474.5L1208.6 474.5Z" fill="none" stroke="#D088C0" stroke-width="2.7"/>
<path d="M1190.2 502.0L1200.4 520.0L1180.0 520.0Z" fill="none" stroke="#D088C0" stroke-width="2.7"/>
<path d="M1204.0 494.6L1214.2 512.6L1193.8 512.6Z" fill="none" stroke="#D088C0" stroke-width="2.7"/>
<path d="M893.9 69.2L904.1 87.2L883.7 87.2Z" fill="#E888C0" stroke="#EC1C24" stroke-width="2.9"/>
<path d="M1029.4 191.8L1039.6 209.8L1019.2 209.8Z" fill="#E888C0" stroke="#EC1C24" stroke-width="2.9"/>
<path d="M1077.4 290.3L1087.6 308.3L1067.2 308.3Z" fill="#E888C0" stroke="#EC1C24" stroke-width="2.9"/>
<path d="M1093.7 392.6L1103.9 410.6L1083.5 410.6Z" fill="#E888C0" stroke="#EC1C24" stroke-width="2.9"/>
<path d="M1111.7 445.8L1121.9 463.8L1101.5 463.8Z" fill="#E888C0" stroke="#EC1C24" stroke-width="2.9"/>
<path d="M1134.5 462.5L1144.7 480.5L1124.3 480.5Z" fill="#E888C0" stroke="#EC1C24" stroke-width="2.9"/>
<path d="M1159.6 487.5L1169.8 505.5L1149.4 505.5Z" fill="#E888C0" stroke="#EC1C24" stroke-width="2.9"/>
<path d="M1181.3 489.5L1191.5 507.5L1171.1 507.5Z" fill="#E888C0" stroke="#EC1C24" stroke-width="2.9"/>
<path d="M1263.3 495.7L1273.5 513.7L1253.1 513.7Z" fill="#E888C0" stroke="#EC1C24" stroke-width="2.9"/>
<path d="M1222.0 494.6L1232.2 512.6L1211.8 512.6Z" fill="#E888C0" stroke="#EC1C24" stroke-width="2.9"/>
<rect x="906.8" y="183.1" width="17.4" height="17.4" fill="#F08080" stroke="#EC1C24" stroke-width="2.9"/>
<rect x="1056.7" y="367.1" width="17.4" height="17.4" fill="#F08080" stroke="#EC1C24" stroke-width="2.9"/>
<rect x="1134.9" y="433.0" width="17.4" height="17.4" fill="#F08080" stroke="#EC1C24" stroke-width="2.9"/>
<rect x="1150.4" y="476.8" width="17.4" height="17.4" fill="#F08080" stroke="#EC1C24" stroke-width="2.9"/>
<rect x="1209.0" y="479.0" width="17.4" height="17.4" fill="#F08080" stroke="#EC1C24" stroke-width="2.9"/>
<rect x="1246.1" y="503.4" width="17.4" height="17.4" fill="#F08080" stroke="#EC1C24" stroke-width="2.9"/>
<path d="M994.6 270.5L1006.6 282.5L994.6 294.5L982.6 282.5Z" fill="#F08080" stroke="#EC1C24" stroke-width="2.9"/>
<path d="M1236.9 405.5L1248.9 417.5L1236.9 429.5L1224.9 417.5Z" fill="#F08080" stroke="#EC1C24" stroke-width="2.9"/>
<path d="M1163.2 414.4L1175.2 426.4L1163.2 438.4L1151.2 426.4Z" fill="#F08080" stroke="#EC1C24" stroke-width="2.9"/>
<path d="M1251.7 422.5L1263.7 434.5L1251.7 446.5L1239.7 434.5Z" fill="#F08080" stroke="#EC1C24" stroke-width="2.9"/>
<path d="M1155.0 447.0L1167.0 459.0L1155.0 471.0L1143.0 459.0Z" fill="#F08080" stroke="#EC1C24" stroke-width="2.9"/>
<path d="M1162.7 415.4L1174.7 427.4L1162.7 439.4L1150.7 427.4Z" fill="#F08080" stroke="#EC1C24" stroke-width="2.9"/>
<path d="M1209.3 429.2L1221.3 441.2L1209.3 453.2L1197.3 441.2Z" fill="#F08080" stroke="#EC1C24" stroke-width="2.9"/>
<path d="M1195.5 439.8L1207.5 451.8L1195.5 463.8L1183.5 451.8Z" fill="#F08080" stroke="#EC1C24" stroke-width="2.9"/>
<path d="M1168.9 513.3L1180.9 525.3L1168.9 537.3L1156.9 525.3Z" fill="#F08080" stroke="#EC1C24" stroke-width="2.9"/>
<path d="M1190.2 473.6L1202.2 485.6L1190.2 497.6L1178.2 485.6Z" fill="#F08080" stroke="#EC1C24" stroke-width="2.9"/>
<rect x="1005.7" y="275.1" width="17.4" height="17.4" fill="none" stroke="#B04CB0" stroke-width="2.7"/>
<rect x="1181.5" y="419.9" width="17.4" height="17.4" fill="none" stroke="#B04CB0" stroke-width="2.7"/>
<rect x="1238.4" y="440.9" width="17.4" height="17.4" fill="none" stroke="#B04CB0" stroke-width="2.7"/>
<rect x="991.3" y="104.0" width="17.4" height="17.4" fill="none" stroke="#F07838" stroke-width="2.7"/>
<rect x="1168.5" y="403.2" width="17.4" height="17.4" fill="none" stroke="#F07838" stroke-width="2.7"/>
<rect x="1186.8" y="444.1" width="17.4" height="17.4" fill="none" stroke="#F07838" stroke-width="2.7"/>
<rect x="1148.9" y="440.4" width="17.4" height="17.4" fill="none" stroke="#F8A840" stroke-width="2.7"/>
<rect x="1185.8" y="473.8" width="17.4" height="17.4" fill="none" stroke="#F8A840" stroke-width="2.7"/>
<rect x="1234.5" y="479.0" width="17.4" height="17.4" fill="none" stroke="#F8A840" stroke-width="2.7"/>
<rect x="1262.0" y="471.6" width="17.4" height="17.4" fill="none" stroke="#F8A840" stroke-width="2.7"/>
<rect x="1161.2" y="438.1" width="17.4" height="17.4" fill="none" stroke="#F08CC0" stroke-width="2.7"/>
<rect x="1258.8" y="476.9" width="17.4" height="17.4" fill="none" stroke="#F08CC0" stroke-width="2.7"/>
<rect x="1196.3" y="517.2" width="17.4" height="17.4" fill="none" stroke="#F08CC0" stroke-width="2.7"/>
<rect x="1195.3" y="494.9" width="17.4" height="17.4" fill="none" stroke="#F08CC0" stroke-width="2.7"/>
<rect x="961.2" y="120.3" width="17.4" height="17.4" fill="none" stroke="#A0186E" stroke-width="2.7"/>
<rect x="1133.3" y="452.5" width="17.4" height="17.4" fill="none" stroke="#A0186E" stroke-width="2.7"/>
<rect x="1256.2" y="514.5" width="17.4" height="17.4" fill="none" stroke="#A0186E" stroke-width="2.7"/>
<path d="M1025.8 241.7L1037.8 253.7L1025.8 265.7L1013.8 253.7Z" fill="none" stroke="#8CC63F" stroke-width="2.7"/>
<path d="M986.6 265.4L998.6 277.4L986.6 289.4L974.6 277.4Z" fill="none" stroke="#8CC63F" stroke-width="2.7"/>
<path d="M1126.9 371.0L1138.9 383.0L1126.9 395.0L1114.9 383.0Z" fill="none" stroke="#8CC63F" stroke-width="2.7"/>
<path d="M1156.1 404.5L1168.1 416.5L1156.1 428.5L1144.1 416.5Z" fill="none" stroke="#8CC63F" stroke-width="2.7"/>
<path d="M1169.9 441.3L1181.9 453.3L1169.9 465.3L1157.9 453.3Z" fill="none" stroke="#8CC63F" stroke-width="2.7"/>
<path d="M1157.4 412.2L1169.4 424.2L1157.4 436.2L1145.4 424.2Z" fill="none" stroke="#8CC63F" stroke-width="2.7"/>
<path d="M1192.3 442.9L1204.3 454.9L1192.3 466.9L1180.3 454.9Z" fill="none" stroke="#8CC63F" stroke-width="2.7"/>
<path d="M1249.5 440.8L1261.5 452.8L1249.5 464.8L1237.5 452.8Z" fill="none" stroke="#8CC63F" stroke-width="2.7"/>
<path d="M1231.5 505.4L1243.5 517.4L1231.5 529.4L1219.5 517.4Z" fill="none" stroke="#8CC63F" stroke-width="2.7"/>
<path d="M921.5 146.5L933.5 158.5L921.5 170.5L909.5 158.5Z" fill="none" stroke="#23903E" stroke-width="2.7"/>
<path d="M1110.6 350.1L1122.6 362.1L1110.6 374.1L1098.6 362.1Z" fill="none" stroke="#23903E" stroke-width="2.7"/>
<path d="M1114.4 421.9L1126.4 433.9L1114.4 445.9L1102.4 433.9Z" fill="none" stroke="#23903E" stroke-width="2.7"/>
<path d="M1209.8 416.6L1221.8 428.6L1209.8 440.6L1197.8 428.6Z" fill="none" stroke="#23903E" stroke-width="2.7"/>
<path d="M1206.1 426.9L1218.1 438.9L1206.1 450.9L1194.1 438.9Z" fill="none" stroke="#23903E" stroke-width="2.7"/>
<path d="M1140.8 366.3L1152.8 378.3L1140.8 390.3L1128.8 378.3Z" fill="none" stroke="#5AB535" stroke-width="2.7"/>
<path d="M1189.9 359.8L1201.9 371.8L1189.9 383.8L1177.9 371.8Z" fill="none" stroke="#5AB535" stroke-width="2.7"/>
<path d="M1219.7 355.5L1231.7 367.5L1219.7 379.5L1207.7 367.5Z" fill="none" stroke="#5AB535" stroke-width="2.7"/>
<path d="M1242.8 399.9L1254.8 411.9L1242.8 423.9L1230.8 411.9Z" fill="none" stroke="#5AB535" stroke-width="2.7"/>
<path d="M1270.8 431.7L1282.8 443.7L1270.8 455.7L1258.8 443.7Z" fill="none" stroke="#5AB535" stroke-width="2.7"/>
<path d="M1088.8 194.4L1100.8 206.4L1088.8 218.4L1076.8 206.4Z" fill="none" stroke="#B5D08A" stroke-width="2.7"/>
<path d="M1177.3 514.8L1189.3 526.8L1177.3 538.8L1165.3 526.8Z" fill="none" stroke="#B5D08A" stroke-width="2.7"/>
<path d="M1223.0 476.8L1235.0 488.8L1223.0 500.8L1211.0 488.8Z" fill="none" stroke="#B5D08A" stroke-width="2.7"/>
<path d="M1264.3 465.2L1276.3 477.2L1264.3 489.2L1252.3 477.2Z" fill="none" stroke="#B5D08A" stroke-width="2.7"/>
<path d="M1090.7 288.4L1102.7 300.4L1090.7 312.4L1078.7 300.4Z" fill="none" stroke="#58C8E0" stroke-width="2.7"/>
<path d="M1291.3 340.6L1303.3 352.6L1291.3 364.6L1279.3 352.6Z" fill="none" stroke="#58C8E0" stroke-width="2.7"/>
<path d="M1242.8 370.0L1254.8 382.0L1242.8 394.0L1230.8 382.0Z" fill="none" stroke="#58C8E0" stroke-width="2.7"/>
<path d="M1216.3 392.4L1228.3 404.4L1216.3 416.4L1204.3 404.4Z" fill="none" stroke="#58C8E0" stroke-width="2.7"/>
<path d="M1219.5 448.5L1231.5 460.5L1219.5 472.5L1207.5 460.5Z" fill="none" stroke="#58C8E0" stroke-width="2.7"/>
<path d="M907.75 315.78L912.03 316.10L916.30 316.43L920.57 316.77L924.84 317.13L929.12 317.50L933.39 317.89L937.66 318.29L941.93 318.70L946.21 319.13L950.48 319.58L954.75 320.04L959.02 320.53L963.30 321.03L967.57 321.55L971.84 322.09L976.12 322.65L980.39 323.24L984.66 323.84L988.93 324.47L993.21 325.12L997.48 325.80L1001.75 326.51L1006.02 327.24L1010.30 328.00L1014.57 328.79L1018.84 329.61L1023.11 330.46L1027.39 331.35L1031.66 332.27L1035.93 333.22L1040.20 334.21L1044.48 335.24L1048.75 336.31L1053.02 337.42L1057.29 338.57L1061.57 339.77L1065.84 341.01L1070.11 342.31L1074.39 343.65L1078.66 345.04L1082.93 346.49L1087.20 347.99L1091.48 349.55L1095.75 351.17L1100.02 352.85L1104.29 354.60L1108.57 356.42L1112.84 358.30L1117.11 360.26L1121.38 362.29L1125.66 364.41L1129.93 366.60L1134.20 368.88L1138.47 371.25L1142.75 373.70L1147.02 376.25L1151.29 378.90L1155.56 381.66L1159.84 384.52L1164.11 387.49L1168.38 390.57L1172.66 393.77L1176.93 397.10L1181.20 400.55L1185.47 404.14L1189.75 407.87L1194.02 411.73L1198.29 415.75L1202.56 419.93L1206.84 424.26L1211.11 428.76L1215.38 433.44L1219.65 438.29L1223.93 443.34L1228.20 448.57L1232.47 454.01L1236.74 459.66L1241.02 465.53L1245.29 471.62L1249.56 477.95" stroke="#7F7F7F" stroke-width="3.8" fill="none" stroke-linecap="round"/>
<path d="M907.75 450.92L912.03 450.98L916.30 451.03L920.57 451.09L924.84 451.15L929.12 451.21L933.39 451.27L937.66 451.34L941.93 451.41L946.21 451.48L950.48 451.56L954.75 451.63L959.02 451.71L963.30 451.80L967.57 451.88L971.84 451.97L976.12 452.07L980.39 452.17L984.66 452.27L988.93 452.37L993.21 452.48L997.48 452.59L1001.75 452.71L1006.02 452.83L1010.30 452.96L1014.57 453.09L1018.84 453.23L1023.11 453.37L1027.39 453.52L1031.66 453.67L1035.93 453.83L1040.20 454.00L1044.48 454.17L1048.75 454.34L1053.02 454.53L1057.29 454.72L1061.57 454.92L1065.84 455.13L1070.11 455.34L1074.39 455.57L1078.66 455.80L1082.93 456.04L1087.20 456.29L1091.48 456.55L1095.75 456.82L1100.02 457.10L1104.29 457.39L1108.57 457.70L1112.84 458.01L1117.11 458.34L1121.38 458.68L1125.66 459.03L1129.93 459.39L1134.20 459.77L1138.47 460.17L1142.75 460.58L1147.02 461.00L1151.29 461.44L1155.56 461.90L1159.84 462.38L1164.11 462.87L1168.38 463.39L1172.66 463.92L1176.93 464.48L1181.20 465.05L1185.47 465.65L1189.75 466.27L1194.02 466.92L1198.29 467.59L1202.56 468.28L1206.84 469.00L1211.11 469.75L1215.38 470.53L1219.65 471.34L1223.93 472.18L1228.20 473.06L1232.47 473.96L1236.74 474.90L1241.02 475.88L1245.29 476.90L1249.56 477.95" stroke="#7F7F7F" stroke-width="3.8" fill="none" stroke-linecap="round"/>
<path d="M907.75 391.97L1249.56 477.95" stroke="#7F7F7F" stroke-width="4.2" fill="none" stroke-linecap="round" stroke-dasharray="20 12 20 23"/>
<path d="M935.6 9L1249.56 477.95" stroke="#7F7F7F" stroke-width="3.9" fill="none" stroke-linecap="round" stroke-dasharray="24.7 13.5 24.7 24.3" stroke-dashoffset="19.8"/>
<path d="M1202.2 477.3H1270.2M1202.2 468.3V486.3M1270.2 468.3V486.3M1236 437.7V517.3M1226.8 437.7H1245.2M1226.8 517.3H1245.2" stroke="#000" stroke-width="2.6" fill="none"/>
<rect x="1227.7" y="469" width="16.6" height="16.6" rx="1.5" fill="#000"/>
<path d="M1208 493.8H997" stroke="#000" stroke-width="6" stroke-linecap="round"/>
<path d="M973.8 493.7L1001.3 484.8Q998.3 493.7 1001.3 502.6Z" fill="#000" stroke="#000" stroke-width="1.5" stroke-linejoin="round"/>
<text x="1028.5" y="522" font-family='"Liberation Serif", serif' font-weight="bold" font-size="27.5" fill="#000" text-anchor="start">dilution</text>
<text x="833.7" y="327.9" font-family='"Liberation Serif", serif' font-weight="bold" font-size="27.5" fill="#000" text-anchor="start">ε=6.0</text>
<text x="835.8" y="407.8" font-family='"Liberation Serif", serif' font-weight="bold" font-size="27.5" fill="#000" text-anchor="start">ε=1.0</text>
<text x="835.8" y="464.2" font-family='"Liberation Serif", serif' font-weight="bold" font-size="27.5" fill="#000" text-anchor="start">ε=1.0</text>
<text x="875.9" y="46.6" font-family='"Liberation Serif", serif' font-weight="bold" font-size="27.5" fill="#000" text-anchor="start">ε=6.0</text>
<text x="1022.5" y="77" font-family='"Liberation Serif", serif' font-weight="bold" font-size="27.5" fill="#808080" text-anchor="start">[NO<tspan font-size="18" dy="9.5">3</tspan><tspan font-size="18" dy="-24">-</tspan><tspan dy="14.5">]=2.0 μmol/L</tspan></text>
<path d="M162 1269.8L688.5 742.7" stroke="#BFBFBF" stroke-width="6.5" fill="none" stroke-linecap="round" stroke-dasharray="18 18.5"/>
<circle cx="266.4" cy="1086.5" r="9.8" fill="none" stroke="#78CDCB" stroke-width="2.7"/>
<circle cx="263.8" cy="1105.4" r="9.8" fill="none" stroke="#78CDCB" stroke-width="2.7"/>
<circle cx="265.3" cy="1193.2" r="9.8" fill="none" stroke="#78CDCB" stroke-width="2.7"/>
<circle cx="261.9" cy="1216.1" r="9.8" fill="none" stroke="#78CDCB" stroke-width="2.7"/>
<circle cx="266.8" cy="1213.0" r="9.8" fill="none" stroke="#78CDCB" stroke-width="2.7"/>
<circle cx="217.1" cy="1253.3" r="9.8" fill="none" stroke="#78CDCB" stroke-width="2.7"/>
<circle cx="193.9" cy="1236.9" r="9.8" fill="none" stroke="#6E96D6" stroke-width="2.7"/>
<circle cx="196.5" cy="1239.5" r="9.8" fill="none" stroke="#6E96D6" stroke-width="2.7"/>
<circle cx="203.4" cy="1235.2" r="9.8" fill="none" stroke="#6E96D6" stroke-width="2.7"/>
<circle cx="211.4" cy="1158.8" r="9.8" fill="none" stroke="#1A78C2" stroke-width="2.7"/>
<circle cx="214.3" cy="1161.3" r="9.8" fill="none" stroke="#1A78C2" stroke-width="2.7"/>
<circle cx="205.7" cy="1178.5" r="9.8" fill="none" stroke="#1A78C2" stroke-width="2.7"/>
<path d="M327.1 830.0L337.3 848.0L316.9 848.0Z" fill="none" stroke="#78CDCB" stroke-width="2.7"/>
<path d="M279.3 1132.6L289.5 1150.6L269.1 1150.6Z" fill="none" stroke="#6E96D6" stroke-width="2.7"/>
<rect x="256.0" y="1107.0" width="14.0" height="14.0" fill="none" stroke="#2F3E9A" stroke-width="2.7"/>
<rect x="267.2" y="1148.3" width="14.0" height="14.0" fill="none" stroke="#2F3E9A" stroke-width="2.7"/>
<rect x="266.6" y="1154.3" width="14.0" height="14.0" fill="none" stroke="#2F3E9A" stroke-width="2.7"/>
<rect x="344.7" y="1007.9" width="17.4" height="17.4" fill="none" stroke="#1A78C2" stroke-width="2.7"/>
<rect x="319.6" y="1035.0" width="17.4" height="17.4" fill="none" stroke="#1A78C2" stroke-width="2.7"/>
<path d="M294.2 1039.8L304.4 1057.8L284.0 1057.8Z" fill="none" stroke="#F07C7C" stroke-width="2.7"/>
<path d="M358.4 943.4L368.6 961.4L348.2 961.4Z" fill="none" stroke="#D088C0" stroke-width="2.7"/>
<path d="M274.2 1130.8L284.4 1148.8L264.0 1148.8Z" fill="none" stroke="#D088C0" stroke-width="2.7"/>
<path d="M363.0 865.1L373.2 883.1L352.8 883.1Z" fill="#E888C0" stroke="#EC1C24" stroke-width="2.9"/>
<path d="M393.2 963.5L403.4 981.5L383.0 981.5Z" fill="#E888C0" stroke="#EC1C24" stroke-width="2.9"/>
<path d="M318.9 1043.8L329.1 1061.8L308.7 1061.8Z" fill="#E888C0" stroke="#EC1C24" stroke-width="2.9"/>
<path d="M260.4 1122.2L270.6 1140.2L250.2 1140.2Z" fill="#E888C0" stroke="#EC1C24" stroke-width="2.9"/>
<path d="M215.4 1189.2L225.6 1207.2L205.2 1207.2Z" fill="#E888C0" stroke="#EC1C24" stroke-width="2.9"/>
<path d="M258.1 1212.5L268.3 1230.5L247.9 1230.5Z" fill="#E888C0" stroke="#EC1C24" stroke-width="2.9"/>
<rect x="337.7" y="956.8" width="17.4" height="17.4" fill="#F08080" stroke="#EC1C24" stroke-width="2.9"/>
<rect x="277.5" y="1104.4" width="17.4" height="17.4" fill="#F08080" stroke="#EC1C24" stroke-width="2.9"/>
<rect x="208.1" y="1199.9" width="17.4" height="17.4" fill="#F08080" stroke="#EC1C24" stroke-width="2.9"/>
<path d="M284.6 1026.6L296.6 1038.6L284.6 1050.6L272.6 1038.6Z" fill="#F08080" stroke="#EC1C24" stroke-width="2.9"/>
<path d="M232.0 1133.8L244.0 1145.8L232.0 1157.8L220.0 1145.8Z" fill="#F08080" stroke="#EC1C24" stroke-width="2.9"/>
<path d="M260.4 1141.6L272.4 1153.6L260.4 1165.6L248.4 1153.6Z" fill="#F08080" stroke="#EC1C24" stroke-width="2.9"/>
<path d="M259.9 1145.0L271.9 1157.0L259.9 1169.0L247.9 1157.0Z" fill="#F08080" stroke="#EC1C24" stroke-width="2.9"/>
<path d="M250.4 1140.7L262.4 1152.7L250.4 1164.7L238.4 1152.7Z" fill="#F08080" stroke="#EC1C24" stroke-width="2.9"/>
<path d="M240.4 1224.1L252.4 1236.1L240.4 1248.1L228.4 1236.1Z" fill="#F08080" stroke="#EC1C24" stroke-width="2.9"/>
<rect x="314.6" y="1030.0" width="17.4" height="17.4" fill="none" stroke="#B04CB0" stroke-width="2.7"/>
<rect x="208.7" y="1139.7" width="17.4" height="17.4" fill="none" stroke="#B04CB0" stroke-width="2.7"/>
<rect x="210.7" y="1145.7" width="17.4" height="17.4" fill="none" stroke="#B04CB0" stroke-width="2.7"/>
<rect x="256.6" y="1173.0" width="17.4" height="17.4" fill="none" stroke="#B04CB0" stroke-width="2.7"/>
<rect x="191.2" y="1206.7" width="17.4" height="17.4" fill="none" stroke="#B04CB0" stroke-width="2.7"/>
<rect x="408.5" y="893.1" width="17.4" height="17.4" fill="none" stroke="#F07838" stroke-width="2.7"/>
<rect x="231.1" y="1129.4" width="17.4" height="17.4" fill="none" stroke="#F07838" stroke-width="2.7"/>
<rect x="248.6" y="1162.9" width="17.4" height="17.4" fill="none" stroke="#F8A840" stroke-width="2.7"/>
<rect x="248.6" y="1168.5" width="17.4" height="17.4" fill="none" stroke="#F8A840" stroke-width="2.7"/>
<rect x="250.3" y="1179.3" width="17.4" height="17.4" fill="none" stroke="#F8A840" stroke-width="2.7"/>
<rect x="251.3" y="1174.3" width="17.4" height="17.4" fill="none" stroke="#F8A840" stroke-width="2.7"/>
<rect x="246.3" y="1183.3" width="17.4" height="17.4" fill="none" stroke="#F8A840" stroke-width="2.7"/>
<rect x="202.1" y="1162.1" width="17.4" height="17.4" fill="none" stroke="#F08CC0" stroke-width="2.7"/>
<rect x="195.2" y="1185.3" width="17.4" height="17.4" fill="none" stroke="#F08CC0" stroke-width="2.7"/>
<rect x="214.5" y="1199.8" width="17.4" height="17.4" fill="none" stroke="#F08CC0" stroke-width="2.7"/>
<rect x="216.2" y="1223.9" width="17.4" height="17.4" fill="none" stroke="#F08CC0" stroke-width="2.7"/>
<rect x="412.6" y="906.6" width="17.4" height="17.4" fill="none" stroke="#A0186E" stroke-width="2.7"/>
<rect x="246.9" y="1197.3" width="17.4" height="17.4" fill="none" stroke="#A0186E" stroke-width="2.7"/>
<rect x="236.5" y="1203.4" width="17.4" height="17.4" fill="none" stroke="#A0186E" stroke-width="2.7"/>
<rect x="236.5" y="1222.3" width="17.4" height="17.4" fill="none" stroke="#A0186E" stroke-width="2.7"/>
<rect x="241.3" y="1213.3" width="17.4" height="17.4" fill="none" stroke="#A0186E" stroke-width="2.7"/>
<rect x="205.8" y="1221.8" width="17.4" height="17.4" fill="none" stroke="#A0186E" stroke-width="2.7"/>
<rect x="243.3" y="1206.3" width="17.4" height="17.4" fill="none" stroke="#A0186E" stroke-width="2.7"/>
<rect x="249.3" y="1219.3" width="17.4" height="17.4" fill="none" stroke="#A0186E" stroke-width="2.7"/>
<rect x="231.3" y="1213.3" width="17.4" height="17.4" fill="none" stroke="#A0186E" stroke-width="2.7"/>
<rect x="246.3" y="1189.3" width="17.4" height="17.4" fill="none" stroke="#A0186E" stroke-width="2.7"/>
<rect x="239.3" y="1229.3" width="17.4" height="17.4" fill="none" stroke="#A0186E" stroke-width="2.7"/>
<path d="M286.2 1002.6L298.2 1014.6L286.2 1026.6L274.2 1014.6Z" fill="none" stroke="#8CC63F" stroke-width="2.7"/>
<path d="M278.1 1021.7L290.1 1033.7L278.1 1045.7L266.1 1033.7Z" fill="none" stroke="#8CC63F" stroke-width="2.7"/>
<path d="M246.2 1106.3L258.2 1118.3L246.2 1130.3L234.2 1118.3Z" fill="none" stroke="#8CC63F" stroke-width="2.7"/>
<path d="M277.6 1102.9L289.6 1114.9L277.6 1126.9L265.6 1114.9Z" fill="none" stroke="#8CC63F" stroke-width="2.7"/>
<path d="M223.4 1133.0L235.4 1145.0L223.4 1157.0L211.4 1145.0Z" fill="none" stroke="#8CC63F" stroke-width="2.7"/>
<path d="M242.7 1153.6L254.7 1165.6L242.7 1177.6L230.7 1165.6Z" fill="none" stroke="#8CC63F" stroke-width="2.7"/>
<path d="M217.7 1162.2L229.7 1174.2L217.7 1186.2L205.7 1174.2Z" fill="none" stroke="#8CC63F" stroke-width="2.7"/>
<path d="M218.8 1213.7L230.8 1225.7L218.8 1237.7L206.8 1225.7Z" fill="none" stroke="#8CC63F" stroke-width="2.7"/>
<path d="M355.4 926.4L367.4 938.4L355.4 950.4L343.4 938.4Z" fill="none" stroke="#23903E" stroke-width="2.7"/>
<path d="M267.7 1089.1L279.7 1101.1L267.7 1113.1L255.7 1101.1Z" fill="none" stroke="#23903E" stroke-width="2.7"/>
<path d="M237.2 1142.5L249.2 1154.5L237.2 1166.5L225.2 1154.5Z" fill="none" stroke="#23903E" stroke-width="2.7"/>
<path d="M233.2 1144.1L245.2 1156.1L233.2 1168.1L221.2 1156.1Z" fill="none" stroke="#23903E" stroke-width="2.7"/>
<path d="M236.6 1149.3L248.6 1161.3L236.6 1173.3L224.6 1161.3Z" fill="none" stroke="#23903E" stroke-width="2.7"/>
<path d="M226.4 1094.3L238.4 1106.3L226.4 1118.3L214.4 1106.3Z" fill="none" stroke="#5AB535" stroke-width="2.7"/>
<path d="M244.5 1097.7L256.5 1109.7L244.5 1121.7L232.5 1109.7Z" fill="none" stroke="#5AB535" stroke-width="2.7"/>
<path d="M225.6 1129.6L237.6 1141.6L225.6 1153.6L213.6 1141.6Z" fill="none" stroke="#5AB535" stroke-width="2.7"/>
<path d="M337.0 965.5L349.0 977.5L337.0 989.5L325.0 977.5Z" fill="none" stroke="#B5D08A" stroke-width="2.7"/>
<path d="M199.1 1187.1L211.1 1199.1L199.1 1211.1L187.1 1199.1Z" fill="none" stroke="#B5D08A" stroke-width="2.7"/>
<path d="M205.9 1181.0L217.9 1193.0L205.9 1205.0L193.9 1193.0Z" fill="none" stroke="#B5D08A" stroke-width="2.7"/>
<path d="M210.2 1178.4L222.2 1190.4L210.2 1202.4L198.2 1190.4Z" fill="none" stroke="#B5D08A" stroke-width="2.7"/>
<path d="M168.5 1221.9L180.5 1233.9L168.5 1245.9L156.5 1233.9Z" fill="none" stroke="#B5D08A" stroke-width="2.7"/>
<path d="M414.0 747.2L426.0 759.2L414.0 771.2L402.0 759.2Z" fill="none" stroke="#58C8E0" stroke-width="2.7"/>
<path d="M292.2 1041.8L304.2 1053.8L292.2 1065.8L280.2 1053.8Z" fill="none" stroke="#58C8E0" stroke-width="2.7"/>
<path d="M312.3 1082.5L324.3 1094.5L312.3 1106.5L300.3 1094.5Z" fill="none" stroke="#58C8E0" stroke-width="2.7"/>
<path d="M281.9 1105.5L293.9 1117.5L281.9 1129.5L269.9 1117.5Z" fill="none" stroke="#58C8E0" stroke-width="2.7"/>
<path d="M247.5 1123.5L259.5 1135.5L247.5 1147.5L235.5 1135.5Z" fill="none" stroke="#58C8E0" stroke-width="2.7"/>
<path d="M241.8 1157.1L253.8 1169.1L241.8 1181.1L229.8 1169.1Z" fill="none" stroke="#58C8E0" stroke-width="2.7"/>
<path d="M229.8 1168.2L241.8 1180.2L229.8 1192.2L217.8 1180.2Z" fill="none" stroke="#58C8E0" stroke-width="2.7"/>
<path d="M222.9 1194.2H263.7M222.9 1185.4V1203M263.7 1185.4V1203M243.1 1162.2V1226.3M234.5 1162.2H251.7M234.5 1226.3H251.7" stroke="#000" stroke-width="2.6" fill="none"/>
<rect x="234.5" y="1185.6" width="17.2" height="17.2" fill="#808080" stroke="#000" stroke-width="3.2"/>
<path d="M204.5 1267.3L436.7 864.1" stroke="#000" stroke-width="4" fill="none" stroke-linecap="round"/>
<text x="326.6" y="790.8" font-family='"Liberation Serif", serif' font-weight="bold" font-size="27.3" fill="#000" text-anchor="start">y=(1.8±0.1)x-(5.6±0.4)</text>
<text x="454.5" y="827" font-family='"Liberation Serif", serif' font-weight="bold" font-size="27.5" fill="#000" text-anchor="middle">R<tspan font-size="18" dy="-14">2</tspan><tspan dy="14">=0.72</tspan></text>
<text x="416.1" y="859" font-family='"Liberation Serif", serif' font-weight="bold" font-size="27.5" fill="#000" text-anchor="start"><tspan font-style="italic">p</tspan>=0.01</text>
<text x="626.5" y="776.5" font-family='"Liberation Serif", serif' font-weight="bold" font-size="27.5" fill="#A6A6A6" text-anchor="start">1:1</text>
<circle cx="491.4" cy="874.8" r="9.8" fill="none" stroke="#78CDCB" stroke-width="2.7"/>
<text x="533.7" y="883.0999999999999" font-family='"Liberation Serif", serif' font-weight="normal" font-size="26" fill="#000" text-anchor="start">TS2</text>
<circle cx="491.4" cy="903.9" r="9.8" fill="none" stroke="#6E96D6" stroke-width="2.7"/>
<text x="533.7" y="912.1999999999999" font-family='"Liberation Serif", serif' font-weight="normal" font-size="26" fill="#000" text-anchor="start">B5</text>
<circle cx="491.4" cy="933.0" r="9.8" fill="none" stroke="#2F3E9A" stroke-width="2.7"/>
<text x="533.7" y="941.3" font-family='"Liberation Serif", serif' font-weight="normal" font-size="26" fill="#000" text-anchor="start">C5</text>
<circle cx="491.4" cy="962.1" r="9.8" fill="none" stroke="#1A78C2" stroke-width="2.7"/>
<text x="533.7" y="970.3999999999999" font-family='"Liberation Serif", serif' font-weight="normal" font-size="26" fill="#000" text-anchor="start">BC1</text>
<path d="M491.4 979.2L501.6 997.2L481.2 997.2Z" fill="none" stroke="#78CDCB" stroke-width="2.7"/>
<text x="533.7" y="999.4999999999999" font-family='"Liberation Serif", serif' font-weight="normal" font-size="26" fill="#000" text-anchor="start">NS1</text>
<path d="M491.4 1008.3L501.6 1026.3L481.2 1026.3Z" fill="none" stroke="#6E96D6" stroke-width="2.7"/>
<text x="533.7" y="1028.6" font-family='"Liberation Serif", serif' font-weight="normal" font-size="26" fill="#000" text-anchor="start">D1</text>
<rect x="484.4" y="1042.4" width="14.0" height="14.0" fill="none" stroke="#2F3E9A" stroke-width="2.7"/>
<text x="533.7" y="1057.7" font-family='"Liberation Serif", serif' font-weight="normal" font-size="26" fill="#000" text-anchor="start">F1</text>
<rect x="482.7" y="1069.8" width="17.4" height="17.4" fill="none" stroke="#1A78C2" stroke-width="2.7"/>
<text x="533.7" y="1086.8" font-family='"Liberation Serif", serif' font-weight="normal" font-size="26" fill="#000" text-anchor="start">D6</text>
<path d="M491.4 1095.6L501.6 1113.6L481.2 1113.6Z" fill="none" stroke="#F07C7C" stroke-width="2.7"/>
<text x="533.7" y="1115.8999999999999" font-family='"Liberation Serif", serif' font-weight="normal" font-size="26" fill="#000" text-anchor="start">J1</text>
<path d="M491.4 1124.7L501.6 1142.7L481.2 1142.7Z" fill="none" stroke="#D088C0" stroke-width="2.7"/>
<text x="533.7" y="1145.0" font-family='"Liberation Serif", serif' font-weight="normal" font-size="26" fill="#000" text-anchor="start">X5</text>
<path d="M491.4 1153.8L501.6 1171.8L481.2 1171.8Z" fill="#E888C0" stroke="#EC1C24" stroke-width="2.9"/>
<text x="533.7" y="1174.1" font-family='"Liberation Serif", serif' font-weight="normal" font-size="26" fill="#000" text-anchor="start">2014SEATS</text>
<rect x="482.7" y="1186.2" width="17.4" height="17.4" fill="#F08080" stroke="#EC1C24" stroke-width="2.9"/>
<text x="533.7" y="1203.2" font-family='"Liberation Serif", serif' font-weight="normal" font-size="26" fill="#000" text-anchor="start">2016SEATS</text>
<path d="M491.4 1212.0L503.4 1224.0L491.4 1236.0L479.4 1224.0Z" fill="#F08080" stroke="#EC1C24" stroke-width="2.9"/>
<text x="533.7" y="1232.3" font-family='"Liberation Serif", serif' font-weight="normal" font-size="26" fill="#000" text-anchor="start">2017SEATS</text>
<rect x="482.8" y="1244.5" width="17.2" height="17.2" fill="#808080" stroke="#000" stroke-width="3.2"/>
<text x="533.7" y="1261.3999999999999" font-family='"Liberation Serif", serif' font-weight="normal" font-size="26" fill="#000" text-anchor="start">Mean value</text>
<rect x="586.3" y="866.1" width="17.4" height="17.4" fill="none" stroke="#B04CB0" stroke-width="2.7"/>
<text x="637.7" y="883.0999999999999" font-family='"Liberation Serif", serif' font-weight="normal" font-size="26" fill="#000" text-anchor="start">Q1</text>
<rect x="586.3" y="895.2" width="17.4" height="17.4" fill="none" stroke="#F07838" stroke-width="2.7"/>
<text x="637.7" y="912.1999999999999" font-family='"Liberation Serif", serif' font-weight="normal" font-size="26" fill="#000" text-anchor="start">Q3</text>
<rect x="586.3" y="924.3" width="17.4" height="17.4" fill="none" stroke="#F8A840" stroke-width="2.7"/>
<text x="637.7" y="941.3" font-family='"Liberation Serif", serif' font-weight="normal" font-size="26" fill="#000" text-anchor="start">K3</text>
<rect x="586.3" y="953.4" width="17.4" height="17.4" fill="none" stroke="#F08CC0" stroke-width="2.7"/>
<text x="637.7" y="970.3999999999999" font-family='"Liberation Serif", serif' font-weight="normal" font-size="26" fill="#000" text-anchor="start">K8</text>
<rect x="586.3" y="982.5" width="17.4" height="17.4" fill="none" stroke="#A0186E" stroke-width="2.7"/>
<text x="637.7" y="999.4999999999999" font-family='"Liberation Serif", serif' font-weight="normal" font-size="26" fill="#000" text-anchor="start">A11</text>
<path d="M595.0 1008.3L607.0 1020.3L595.0 1032.3L583.0 1020.3Z" fill="none" stroke="#8CC63F" stroke-width="2.7"/>
<text x="637.7" y="1028.6" font-family='"Liberation Serif", serif' font-weight="normal" font-size="26" fill="#000" text-anchor="start">SS1</text>
<path d="M595.0 1037.4L607.0 1049.4L595.0 1061.4L583.0 1049.4Z" fill="none" stroke="#23903E" stroke-width="2.7"/>
<text x="637.7" y="1057.7" font-family='"Liberation Serif", serif' font-weight="normal" font-size="26" fill="#000" text-anchor="start">B1</text>
<path d="M595.0 1066.5L607.0 1078.5L595.0 1090.5L583.0 1078.5Z" fill="none" stroke="#5AB535" stroke-width="2.7"/>
<text x="637.7" y="1086.8" font-family='"Liberation Serif", serif' font-weight="normal" font-size="26" fill="#000" text-anchor="start">B2</text>
<path d="M595.0 1095.6L607.0 1107.6L595.0 1119.6L583.0 1107.6Z" fill="none" stroke="#B5D08A" stroke-width="2.7"/>
<text x="637.7" y="1115.8999999999999" font-family='"Liberation Serif", serif' font-weight="normal" font-size="26" fill="#000" text-anchor="start">A2</text>
<path d="M595.0 1124.7L607.0 1136.7L595.0 1148.7L583.0 1136.7Z" fill="none" stroke="#58C8E0" stroke-width="2.7"/>
<text x="637.7" y="1145.0" font-family='"Liberation Serif", serif' font-weight="normal" font-size="26" fill="#000" text-anchor="start">C1</text>
<path d="M905.1 1201.6L1316.2 794.7" stroke="#808080" stroke-width="2.8" fill="none"/>
<circle cx="1315.9" cy="888.1" r="9.8" fill="none" stroke="#78CDCB" stroke-width="2.7"/>
<path d="M1063.0 899.3L1073.2 917.3L1052.8 917.3Z" fill="none" stroke="#78CDCB" stroke-width="2.7"/>
<path d="M905.1 1036.6L915.3 1054.6L894.9 1054.6Z" fill="none" stroke="#6E96D6" stroke-width="2.7"/>
<rect x="1083.0" y="1085.5" width="17.4" height="17.4" fill="none" stroke="#1A78C2" stroke-width="2.7"/>
<path d="M1129.6 1036.6L1139.8 1054.6L1119.4 1054.6Z" fill="none" stroke="#F07C7C" stroke-width="2.7"/>
<path d="M1025.4 1036.5L1035.6 1054.5L1015.2 1054.5Z" fill="none" stroke="#D088C0" stroke-width="2.7"/>
<path d="M984.2 1036.5L994.4 1054.5L974.0 1054.5Z" fill="#E888C0" stroke="#EC1C24" stroke-width="2.9"/>
<rect x="1083.0" y="1062.6" width="17.4" height="17.4" fill="#F08080" stroke="#EC1C24" stroke-width="2.9"/>
<path d="M1082.3 899.3L1094.3 911.3L1082.3 923.3L1070.3 911.3Z" fill="#F08080" stroke="#EC1C24" stroke-width="2.9"/>
<rect x="985.0" y="1119.1" width="17.4" height="17.4" fill="none" stroke="#B04CB0" stroke-width="2.7"/>
<rect x="981.7" y="1107.8" width="17.4" height="17.4" fill="none" stroke="#F07838" stroke-width="2.7"/>
<rect x="1051.3" y="1096.6" width="17.4" height="17.4" fill="none" stroke="#A0186E" stroke-width="2.7"/>
<path d="M1157.9 990.2L1169.9 1002.2L1157.9 1014.2L1145.9 1002.2Z" fill="none" stroke="#8CC63F" stroke-width="2.7"/>
<path d="M1120.3 1059.4L1132.3 1071.4L1120.3 1083.4L1108.3 1071.4Z" fill="none" stroke="#23903E" stroke-width="2.7"/>
<path d="M1101.2 1082.2L1113.2 1094.2L1101.2 1106.2L1089.2 1094.2Z" fill="none" stroke="#B5D08A" stroke-width="2.7"/>
<path d="M1075.7 1001.7L1087.7 1013.7L1075.7 1025.7L1063.7 1013.7Z" fill="none" stroke="#58C8E0" stroke-width="2.7"/>
<text x="1080" y="791" font-family='"Liberation Serif", serif' font-weight="bold" font-size="27.2" fill="#606060" text-anchor="start">y=(0.025±0.002)x</text>
<text x="1177.6" y="827.5" font-family='"Liberation Serif", serif' font-weight="bold" font-size="27.5" fill="#606060" text-anchor="middle">R<tspan font-size="18" dy="-14">2</tspan><tspan dy="14">=0.91</tspan></text>
<text x="1125" y="858.3" font-family='"Liberation Serif", serif' font-weight="bold" font-size="27.5" fill="#606060" text-anchor="start"><tspan font-style="italic">p</tspan>&lt;0.0001</text>
<text transform="translate(29.4,361.7) rotate(-90)" font-family='"Liberation Serif", serif' font-size="26" fill="#000"><tspan font-size="29">δ</tspan><tspan font-weight="bold" font-size="17" dy="-15.5">15</tspan><tspan font-weight="bold" dy="15.5">N</tspan><tspan font-size="19.5" dy="9.5">NO3</tspan><tspan font-weight="bold" dy="-9.5"> (‰)</tspan></text>
<text transform="translate(738,362) rotate(-90)" font-family='"Liberation Serif", serif' font-size="26" fill="#000"><tspan font-size="29">δ</tspan><tspan font-weight="bold" font-size="17" dy="-15.5">18</tspan><tspan font-weight="bold" dy="15.5">O</tspan><tspan font-size="19.5" dy="9.5">NO3</tspan><tspan font-weight="bold" dy="-9.5"> (‰)</tspan></text>
<text transform="translate(29.4,1059) rotate(-90)" font-family='"Liberation Serif", serif' font-size="26" fill="#000"><tspan font-size="29">δ</tspan><tspan font-weight="bold" font-size="17" dy="-15.5">18</tspan><tspan font-weight="bold" dy="15.5">O</tspan><tspan font-size="19.5" dy="9.5">NO3</tspan><tspan font-weight="bold" dy="-9.5"> (‰)</tspan></text>
<text x="355.9" y="687.7" font-family='"Liberation Serif", serif' font-size="26.5" font-weight="bold" fill="#000">ln[NO<tspan font-size="18" dy="9.5">3</tspan><tspan font-size="19" dy="-24">-</tspan><tspan dy="14.5">]</tspan></text>
<text x="1064.1" y="687.6" font-family='"Liberation Serif", serif' font-size="26.5" font-weight="bold" fill="#000">ln[NO<tspan font-size="18" dy="9.5">3</tspan><tspan font-size="19" dy="-24">-</tspan><tspan dy="14.5">]</tspan></text>
<text x="335" y="1384.6" font-family='"Liberation Serif", serif' font-size="26" fill="#000"><tspan font-size="29">δ</tspan><tspan font-weight="bold" font-size="17" dy="-15.5">15</tspan><tspan font-weight="bold" dy="15.5">N</tspan><tspan font-size="19.5" dy="9.5">NO3</tspan><tspan font-weight="bold" dy="-9.5"> (‰)</tspan></text>
<text x="996.3" y="1381.9" font-family='"Liberation Serif", serif' font-weight="bold" font-size="27.2" fill="#000" text-anchor="start">Nitracline depth (m)</text>
<text transform="translate(763.7,1024.8) rotate(-90)" font-family='"Liberation Serif", serif' font-size="26" fill="#000"><tspan font-size="18.5" dy="-16.5">18</tspan><tspan dy="16.5">ε</tspan><tspan font-weight="bold">:</tspan><tspan font-size="18.5" dy="-16.5">15</tspan><tspan dy="16.5">ε</tspan></text>
</svg></body></html>
